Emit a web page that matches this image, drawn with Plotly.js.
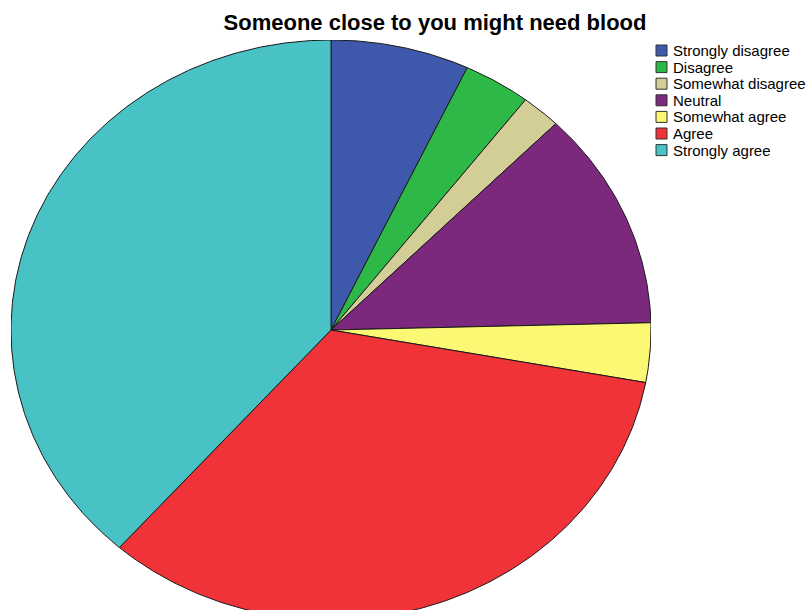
<!DOCTYPE html>
<html>
<head>
<meta charset="utf-8">
<script src="https://cdn.plot.ly/plotly-3.0.1.min.js"></script>
<style>html,body{margin:0;padding:0;background:#fff;}#chart{width:808px;height:610px;}</style>
</head>
<body>
<div id="chart"></div>
<script>
// ---- data (percent of respondents) ----
const categories = ["Strongly disagree", "Disagree", "Somewhat disagree", "Neutral", "Somewhat agree", "Agree", "Strongly agree"];
const percents = [7.0, 3.4, 2.0, 12.2, 3.3, 33.6, 38.5];
const colors = ["#3E58AC", "#2EB848", "#D3CE97", "#7C287D", "#FBF873", "#EF3338", "#48C2C5"];
const chartTitle = "Someone close to you might need blood";

// ---- geometry (plot area in pixels) ----
const W = 808, H = 610;
const M = {l: 11, r: 157, t: 40, b: 0};
const plotW = W - M.l - M.r;   // 640 -> x radius 320
const plotH = H - M.t - M.b;   // 570
const ry = 290;                // vertical radius in px
const yMin = 1 - plotH / ry;

const total = percents.reduce((a, b) => a + b, 0);
const traces = [];
let cum = 0;
percents.forEach((c, i) => {
  const a0 = cum / total * 2 * Math.PI;
  cum += c;
  const a1 = cum / total * 2 * Math.PI;
  const xs = [0], ys = [0];
  const n = Math.max(8, Math.ceil((a1 - a0) / (Math.PI / 360)));
  for (let k = 0; k <= n; k++) {
    const a = a0 + (a1 - a0) * k / n;
    xs.push(Math.sin(a));
    ys.push(Math.cos(a));
  }
  xs.push(0); ys.push(0);
  traces.push({
    type: "scatter", mode: "lines", x: xs, y: ys,
    fill: "toself", fillcolor: colors[i],
    line: {color: "#1a1a1a", width: 1},
    name: categories[i], showlegend: false, hoverinfo: "name"
  });
});

// ---- custom legend built from categories/colors ----
const px2x = px => (px - M.l) / plotW;
const px2y = py => (H - M.b - py) / plotH;
const legX = 656, legY0 = 50.5, legStep = 16.6, sw = 11;
const shapes = [], annotations = [];
categories.forEach((cat, i) => {
  const cy = legY0 + i * legStep;
  shapes.push({
    type: "rect", xref: "paper", yref: "paper",
    x0: px2x(legX), x1: px2x(legX + sw),
    y0: px2y(cy + sw / 2), y1: px2y(cy - sw / 2),
    fillcolor: colors[i], line: {color: "#333", width: 1}
  });
  annotations.push({
    xref: "paper", yref: "paper", x: px2x(legX + sw + 4), y: px2y(cy),
    xanchor: "left", yanchor: "middle", showarrow: false,
    text: cat, font: {family: "Liberation Sans, Arial, sans-serif", size: 15, color: "#000"}
  });
});

const layout = {
  width: W, height: H,
  margin: M,
  paper_bgcolor: "#fff", plot_bgcolor: "#fff",
  title: {
    text: chartTitle, x: 435 / W, xanchor: "center", y: 1 - 22 / H, yanchor: "middle",
    font: {family: "Liberation Sans, Arial, sans-serif", size: 22, color: "#000", weight: "bold"}
  },
  xaxis: {range: [-1, 1], visible: false, fixedrange: true},
  yaxis: {range: [yMin, 1], visible: false, fixedrange: true},
  showlegend: false,
  shapes: shapes,
  annotations: annotations
};

Plotly.newPlot("chart", traces, layout, {displayModeBar: false, staticPlot: true});
</script>
</body>
</html>
